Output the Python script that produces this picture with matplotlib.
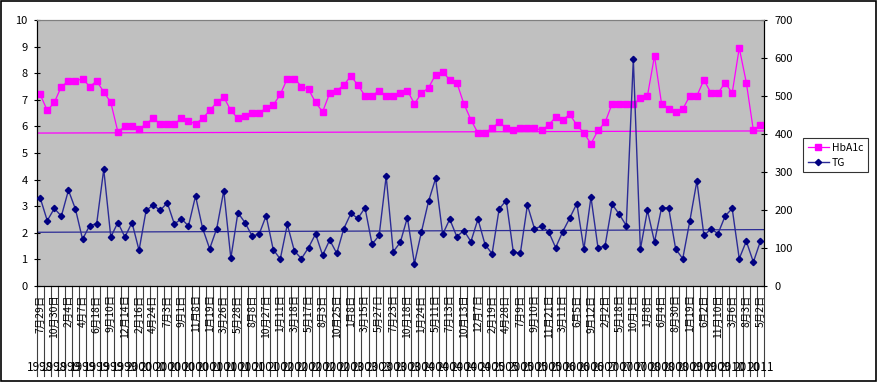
import matplotlib
matplotlib.use("Agg")
import matplotlib.pyplot as plt
import matplotlib.transforms as mtransforms
from matplotlib.patches import Rectangle
import numpy as np

plt.rcParams['font.family'] = ['Noto Sans CJK JP', 'DejaVu Sans']

# data
hba1c = [7.2, 6.6, 6.9, 7.5, 7.7, 7.7, 7.8, 7.5, 7.7, 7.3,
         6.9, 5.8, 6.0, 6.0, 5.9, 6.1, 6.3, 6.1, 6.1, 6.1,
         6.3, 6.2, 6.1, 6.3, 6.6, 6.9, 7.1, 6.6, 6.3, 6.4,
         6.5, 6.5, 6.7, 6.8, 7.2, 7.8, 7.8, 7.5, 7.4, 6.9,
         6.55, 7.25, 7.35, 7.55, 7.9, 7.55, 7.15, 7.15, 7.35, 7.15,
         7.15, 7.25, 7.35, 6.85, 7.25, 7.45, 7.95, 8.05, 7.75, 7.65,
         6.85, 6.25, 5.75, 5.75, 5.95, 6.15, 5.95, 5.85, 5.95, 5.95,
         5.95, 5.85, 6.05, 6.35, 6.25, 6.45, 6.05, 5.75, 5.35, 5.85,
         6.15, 6.85, 6.85, 6.85, 6.85, 7.05, 7.15, 8.65, 6.85, 6.65,
         6.55, 6.65, 7.15, 7.15, 7.75, 7.25, 7.25, 7.65, 7.25, 8.95,
         7.65, 5.85, 6.05]
tg = [232, 172, 204, 184, 252, 202, 123, 159, 164, 307,
      129, 167, 129, 167, 94, 199, 213, 199, 219, 163,
      177, 158, 237, 152, 98, 151, 251, 73, 193, 167,
      132, 136, 185, 96, 71, 162, 92, 72, 101, 137,
      81, 121, 86, 151, 191, 178, 206, 110, 133, 289,
      90, 115, 180, 59, 143, 223, 283, 136, 176, 130,
      146, 117, 176, 109, 85, 203, 225, 90, 86, 213,
      151, 157, 143, 101, 143, 179, 217, 97, 234, 100,
      106, 215, 189, 159, 597, 97, 199, 116, 206, 206,
      97, 72, 171, 276, 133, 150, 138, 184, 204, 72,
      118, 63, 118]
hba1c_ref = [5.75, 5.83]
tg_ref = [2.02, 2.12]   # drawn on the left scale

date_labels = ['7月29日', '10月30日', '2月4日', '4月7日', '6月18日', '9月10日',
               '12月14日', '2月16日', '4月24日', '7月3日', '9月1日', '11月8日',
               '1月19日', '3月26日', '5月28日', '8月8日', '10月27日', '1月11日',
               '3月18日', '5月17日', '8月3日', '10月25日', '1月8日', '3月15日',
               '5月27日', '7月23日', '10月18日', '1月24日', '5月11日', '7月13日',
               '10月13日', '12月7日', '2月19日', '4月28日', '7月9日', '9月10日',
               '11月21日', '3月11日', '6月5日', '9月12日', '2月2日', '5月18日',
               '10月1日', '1月8日', '6月4日', '8月30日', '1月19日', '6月2日',
               '11月10日', '3月6日', '8月3日', '5月2日']
year_labels = ['1998', '1998', '1999', '1999', '1999', '1999', '1999', '2000',
               '2000', '2000', '2000', '2000', '2001', '2001', '2001', '2001',
               '2001', '2002', '2002', '2002', '2002', '2002', '2003', '2003',
               '2003', '2003', '2003', '2004', '2004', '2004', '2004', '2004',
               '2005', '2005', '2005', '2005', '2005', '2006', '2006', '2006',
               '2007', '2007', '2007', '2008', '2008', '2008', '2009', '2009',
               '2009', '2010', '2010', '2011']

n = len(hba1c)
x = np.arange(n)
xlim = (-0.5, n - 0.5)

fig = plt.figure(figsize=(8.77, 3.82), dpi=100)
ax = fig.add_axes([0.0418, 0.2513, 0.8293, 0.6963])
ax.set_facecolor('#C0C0C0')
ax2 = ax.twinx()

ax.plot(xlim, hba1c_ref, color='#FF00FF', lw=0.9, zorder=2)
ax.plot(xlim, tg_ref, color='#2B2B96', lw=0.9, zorder=2)
l1, = ax.plot(x, hba1c, color='#FF00FF', lw=0.9, marker='s', ms=4.0,
              mec='#FF00FF', mfc='#FF00FF', label='HbA1c', zorder=3)
l2, = ax2.plot(x, tg, color='#2B2B96', lw=1.0, marker='D', ms=3.2,
               mec='#000080', mfc='#000080', label='TG', zorder=3)

ax.set_xlim(*xlim)
ax.set_ylim(0, 10)
ax2.set_ylim(0, 700)
ax.set_yticks(range(0, 11))
ax2.set_yticks(range(0, 701, 100))

ax.tick_params(axis='y', direction='inout', length=5, width=0.8, labelsize=8, pad=4)
ax2.tick_params(axis='y', direction='inout', length=5, width=0.8, labelsize=8, pad=5)
for a in (ax, ax2):
    a.spines['top'].set_color('#808080')
    a.spines['top'].set_linewidth(0.8)
    a.spines['left'].set_linewidth(0.8)
    a.spines['right'].set_linewidth(0.8)
    a.spines['bottom'].set_linewidth(0.8)

ax.set_xticks(x[::2])
ax.set_xticklabels(date_labels, rotation=90, fontsize=7.5)
ax.tick_params(axis='x', length=0, pad=6)

# category separators down through the label rows
trans = mtransforms.blended_transform_factory(ax.transData, ax.transAxes)
for b in np.arange(n + 1) - 0.5:
    ax.plot([b, b], [0, -0.338], transform=trans, color='#404040', lw=0.8,
            clip_on=False, zorder=1)
for xi, yr in zip(x[::2], year_labels):
    ax.text(xi, -0.305, yr, transform=trans, ha='center', va='center',
            fontsize=8.5, clip_on=False)

leg = fig.legend([l1, l2], ['HbA1c', 'TG'], loc='upper left',
                 bbox_to_anchor=(0.9156, 0.638), borderaxespad=0, fontsize=7.5,
                 frameon=True, fancybox=False, edgecolor='black', handlelength=2.0,
                 borderpad=0.45, labelspacing=0.45, handletextpad=0.3)
leg.get_frame().set_linewidth(0.8)

fig.patches.append(Rectangle((0.001, 0.002), 0.998, 0.996, transform=fig.transFigure,
                             fill=False, edgecolor='black', lw=1.2))

fig.savefig('out.png', dpi=100)
